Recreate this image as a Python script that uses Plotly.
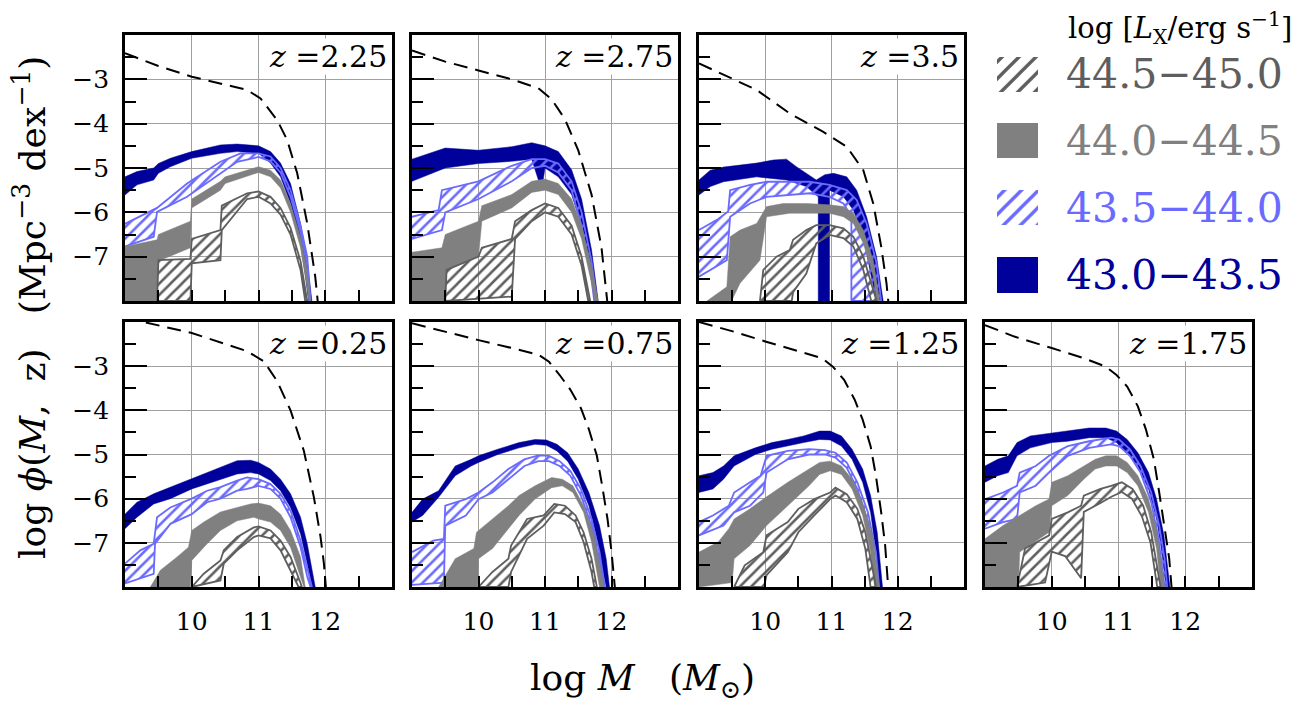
import plotly.graph_objects as go

FONT = "DejaVu Serif"
NAVY = "#00009a"
LBLUE = "#6a6aff"
GRAY = "#808080"
DGRAY = "#5e5e5e"

# ---------------- data (log M, log phi) ----------------
Z225_MF = [(9.0,-2.41),(9.5,-2.7),(10.0,-2.94),(10.43,-3.09),(10.83,-3.24),(11.03,-3.43),(11.28,-3.92),(11.43,-4.37),(11.58,-5.12),(11.73,-6.25),(11.85,-7.45),(11.9,-8.2)]
Z225_NAVY_UP = [(9.0,-5.2),(9.18,-5.08),(9.43,-5.0),(9.5,-4.9),(9.68,-4.78),(10.0,-4.63),(10.43,-4.48),(10.68,-4.46),(11.0,-4.5),(11.18,-4.63),(11.33,-4.89),(11.48,-5.35),(11.63,-6.25),(11.73,-7.08),(11.8,-8.0)]
Z225_NAVY_LO = [(9.0,-5.61),(9.18,-5.38),(9.43,-5.27),(9.5,-5.12),(9.68,-4.97),(10.0,-4.78),(10.43,-4.67),(10.68,-4.63),(11.0,-4.67),(11.18,-4.89),(11.33,-5.2),(11.48,-5.8),(11.63,-6.7),(11.7,-7.4),(11.75,-8.0)]
Z225_LB_UP = [(9.0,-6.26),(9.43,-5.95),(9.48,-5.9),(9.93,-5.35),(10.43,-4.86),(10.73,-4.67),(11.0,-4.67),(11.18,-4.74),(11.33,-5.0),(11.48,-5.5),(11.63,-6.3),(11.73,-7.0),(11.78,-8.0)]
Z225_LB_LO = [(9.0,-6.77),(9.43,-6.55),(9.48,-5.99),(9.93,-5.65),(10.43,-5.12),(10.68,-4.86),(10.93,-4.78),(11.0,-4.75),(11.18,-4.85),(11.33,-5.1),(11.48,-5.65),(11.63,-6.45),(11.73,-7.2),(11.76,-8.0)]
Z225_GR_UP = [(9.0,-6.77),(9.48,-6.62),(9.5,-6.5),(9.98,-6.2),(10.0,-5.7),(10.43,-5.3),(10.5,-5.2),(11.0,-4.97),(11.18,-5.05),(11.33,-5.27),(11.48,-5.8),(11.63,-6.55),(11.73,-7.3),(11.78,-8.0)]
Z225_GR_LO = [(9.0,-8.0),(9.48,-8.0),(9.5,-7.1),(9.98,-6.8),(10.0,-5.9),(10.43,-5.5),(10.5,-5.35),(11.0,-5.1),(11.18,-5.2),(11.33,-5.45),(11.48,-6.0),(11.63,-6.8),(11.72,-7.6),(11.76,-8.0)]
Z225_DG_UP = [(9.48,-8.0),(9.5,-7.08),(9.98,-7.05),(10.0,-6.6),(10.43,-6.4),(10.45,-5.85),(10.83,-5.57),(11.0,-5.53),(11.18,-5.65),(11.33,-5.9),(11.48,-6.35),(11.63,-7.1),(11.73,-8.0)]
Z225_DG_LO = [(9.48,-8.0),(9.98,-8.0),(10.0,-7.15),(10.43,-7.08),(10.45,-6.4),(10.83,-5.7),(11.0,-5.65),(11.18,-5.8),(11.33,-6.05),(11.48,-6.5),(11.63,-7.3),(11.7,-8.0)]

Z275_MF = [(9.0,-2.35),(9.5,-2.6),(10.0,-2.8),(10.5,-3.0),(10.9,-3.2),(11.1,-3.45),(11.3,-3.9),(11.5,-4.6),(11.7,-5.6),(11.85,-6.8),(11.95,-8.2)]
Z275_NAVY_UP = [(9.0,-4.8),(9.5,-4.55),(10.0,-4.6),(10.5,-4.52),(10.8,-4.43),(11.0,-4.5),(11.2,-4.63),(11.4,-5.04),(11.55,-5.7),(11.7,-6.85),(11.8,-8.0)]
Z275_NAVY_LO = [(9.0,-5.3),(9.5,-5.0),(10.0,-4.9),(10.5,-4.85),(10.8,-4.8),(10.95,-5.5),(11.0,-5.0),(11.2,-5.2),(11.4,-5.6),(11.55,-6.3),(11.7,-7.4),(11.75,-8.0)]
Z275_LB_UP = [(9.0,-6.1),(9.4,-5.95),(9.45,-5.5),(10.0,-5.3),(10.5,-4.95),(10.8,-4.8),(11.0,-4.8),(11.2,-4.9),(11.4,-5.3),(11.55,-6.0),(11.7,-7.1),(11.78,-8.0)]
Z275_LB_LO = [(9.0,-6.6),(9.45,-6.4),(9.5,-6.0),(10.0,-5.7),(10.5,-5.3),(10.8,-5.0),(11.0,-4.95),(11.2,-5.1),(11.4,-5.5),(11.55,-6.3),(11.7,-7.5),(11.74,-8.0)]
Z275_GR_UP = [(9.0,-6.9),(9.45,-6.8),(9.5,-6.5),(10.0,-6.2),(10.05,-5.85),(10.5,-5.6),(10.8,-5.3),(11.0,-5.25),(11.2,-5.35),(11.4,-5.7),(11.55,-6.3),(11.7,-7.2),(11.8,-8.0)]
Z275_GR_LO = [(9.0,-8.0),(9.5,-8.0),(9.52,-7.3),(10.0,-7.0),(10.05,-6.2),(10.5,-5.9),(10.8,-5.55),(11.0,-5.5),(11.2,-5.6),(11.4,-6.0),(11.55,-6.6),(11.7,-7.6),(11.75,-8.0)]
Z275_DG_UP = [(9.5,-8.0),(9.52,-7.3),(10.0,-7.0),(10.05,-6.8),(10.5,-6.6),(10.55,-6.2),(10.8,-5.95),(11.0,-5.8),(11.2,-5.9),(11.4,-6.3),(11.55,-7.0),(11.68,-8.0)]
Z275_DG_LO = [(9.5,-8.0),(10.5,-7.9),(10.55,-6.6),(10.8,-6.2),(11.0,-6.0),(11.2,-6.1),(11.4,-6.5),(11.55,-7.2),(11.65,-8.0)]

Z350_MF = [(9.0,-2.64),(9.37,-2.9),(9.87,-3.24),(10.37,-3.77),(10.87,-4.18),(11.23,-4.52),(11.48,-5.05),(11.63,-5.8),(11.75,-6.77),(11.83,-7.6),(11.87,-8.2)]
Z350_NAVY_UP = [(9.0,-5.27),(9.17,-5.05),(9.37,-4.98),(9.87,-4.89),(10.12,-4.82),(10.32,-4.8),(10.47,-4.97),(10.62,-5.12),(10.77,-5.27),(10.9,-5.15),(11.03,-5.12),(11.23,-5.2),(11.38,-5.5),(11.53,-6.1),(11.68,-7.0),(11.78,-8.0)]
Z350_NAVY_LO = [(9.0,-5.61),(9.17,-5.42),(9.37,-5.31),(9.87,-5.2),(10.32,-5.27),(10.62,-5.42),(10.8,-5.65),(10.8,-8.0),(10.97,-8.0),(10.97,-5.5),(11.18,-5.65),(11.33,-5.95),(11.48,-6.55),(11.6,-7.45),(11.68,-8.0)]
Z350_LB_UP = [(9.0,-6.4),(9.27,-6.17),(9.44,-5.98),(9.47,-5.5),(9.77,-5.38),(10.02,-5.31),(10.37,-5.31),(10.67,-5.31),(10.97,-5.38),(11.23,-5.5),(11.38,-5.72),(11.53,-6.25),(11.68,-7.15),(11.75,-8.0)]
Z350_LB_LO = [(9.0,-7.45),(9.17,-7.3),(9.42,-7.08),(9.47,-6.1),(9.77,-5.8),(10.02,-5.65),(10.37,-5.6),(10.67,-5.57),(10.97,-5.65),(11.18,-5.8),(11.3,-6.1),(11.3,-8.0)]
Z350_GR_UP = [(9.12,-8.0),(9.27,-7.83),(9.42,-7.68),(9.47,-6.55),(9.62,-6.4),(9.87,-6.25),(10.02,-5.87),(10.27,-5.8),(10.62,-5.8),(10.97,-5.83),(11.18,-5.87),(11.33,-6.02),(11.48,-6.4),(11.63,-7.08),(11.73,-8.0)]
Z350_GR_LO = [(9.12,-8.0),(9.49,-8.0),(9.62,-7.6),(9.92,-7.08),(10.02,-6.1),(10.37,-6.02),(10.97,-6.02),(11.18,-6.1),(11.33,-6.25),(11.48,-6.7),(11.63,-7.45),(11.68,-8.0)]
Z350_DG_UP = [(9.92,-8.0),(9.97,-7.3),(10.17,-7.0),(10.37,-6.85),(10.42,-6.62),(10.62,-6.4),(10.77,-6.29),(10.97,-6.29),(11.18,-6.36),(11.33,-6.55),(11.48,-7.0),(11.63,-7.75),(11.68,-8.0)]
Z350_DG_LO = [(9.92,-8.0),(10.4,-8.0),(10.42,-7.8),(10.62,-7.38),(10.77,-6.7),(10.97,-6.51),(11.18,-6.58),(11.33,-6.77),(11.48,-7.3),(11.6,-8.0)]

Z025_MF = [(9.0,-1.85),(9.28,-2.0),(10.0,-2.25),(10.43,-2.47),(10.83,-2.66),(11.08,-2.89),(11.28,-3.34),(11.48,-4.0),(11.68,-4.92),(11.83,-5.97),(11.93,-6.87),(11.98,-7.47),(12.02,-8.2)]
Z025_NAVY_UP = [(9.0,-6.35),(9.18,-6.08),(9.43,-5.89),(9.68,-5.74),(10.0,-5.56),(10.23,-5.41),(10.43,-5.29),(10.68,-5.14),(10.88,-5.13),(11.0,-5.18),(11.18,-5.33),(11.33,-5.56),(11.48,-5.89),(11.63,-6.42),(11.73,-7.02),(11.8,-7.62),(11.85,-8.0)]
Z025_NAVY_LO = [(9.0,-6.68),(9.18,-6.42),(9.43,-6.12),(9.68,-6.0),(10.0,-5.78),(10.23,-5.67),(10.43,-5.56),(10.68,-5.44),(10.88,-5.41),(11.0,-5.44),(11.18,-5.59),(11.33,-5.82),(11.48,-6.2),(11.63,-6.8),(11.73,-7.47),(11.8,-8.0)]
Z025_LB_UP = [(9.0,-7.47),(9.23,-7.17),(9.43,-7.02),(9.48,-6.42),(9.68,-6.2),(10.0,-6.0),(10.23,-5.82),(10.43,-5.74),(10.68,-5.59),(10.83,-5.52),(11.0,-5.56),(11.18,-5.67),(11.33,-5.89),(11.48,-6.27),(11.63,-6.95),(11.73,-7.55),(11.8,-8.0)]
Z025_LB_LO = [(9.0,-7.92),(9.43,-7.7),(9.45,-7.02),(9.68,-6.57),(10.0,-6.35),(10.23,-6.08),(10.43,-6.0),(10.68,-5.82),(10.83,-5.78),(11.0,-5.71),(11.18,-5.78),(11.33,-6.0),(11.48,-6.42),(11.63,-7.1),(11.73,-7.77),(11.78,-8.0)]
Z025_GR_UP = [(9.38,-8.0),(9.53,-7.62),(9.78,-7.32),(9.95,-7.1),(10.0,-6.72),(10.18,-6.53),(10.43,-6.3),(10.68,-6.2),(10.88,-6.12),(11.0,-6.1),(11.18,-6.16),(11.33,-6.35),(11.48,-6.72),(11.63,-7.32),(11.7,-8.0)]
Z025_GR_LO = [(9.38,-8.0),(9.98,-8.0),(10.0,-7.4),(10.23,-7.02),(10.43,-6.72),(10.68,-6.5),(10.93,-6.42),(11.0,-6.46),(11.18,-6.53),(11.33,-6.72),(11.48,-7.1),(11.63,-7.77),(11.68,-8.0)]
Z025_DG_UP = [(10.0,-8.0),(10.18,-7.7),(10.43,-7.4),(10.48,-7.17),(10.68,-6.87),(10.93,-6.65),(11.0,-6.63),(11.18,-6.72),(11.33,-6.95),(11.48,-7.32),(11.63,-7.91),(11.65,-8.0)]
Z025_DG_LO = [(10.0,-8.0),(10.43,-7.85),(10.48,-7.47),(10.68,-7.17),(10.93,-6.87),(11.0,-6.83),(11.18,-6.9),(11.33,-7.17),(11.48,-7.62),(11.6,-8.0)]

Z075_MF = [(9.0,-2.03),(9.48,-2.22),(10.0,-2.41),(10.53,-2.6),(10.9,-2.74),(11.06,-2.9),(11.22,-3.2),(11.38,-3.53),(11.54,-3.95),(11.66,-4.43),(11.78,-5.03),(11.86,-5.71),(11.94,-6.46),(12.0,-7.2),(12.05,-8.0)]
Z075_NAVY_UP = [(9.0,-6.31),(9.16,-6.01),(9.4,-5.82),(9.65,-5.26),(9.89,-5.11),(10.0,-5.03),(10.29,-4.88),(10.61,-4.73),(10.85,-4.66),(11.02,-4.67),(11.18,-4.77),(11.34,-4.96),(11.5,-5.33),(11.66,-5.86),(11.82,-6.61),(11.92,-7.36),(11.97,-8.0)]
Z075_NAVY_LO = [(9.0,-6.53),(9.16,-6.38),(9.4,-5.97),(9.65,-5.48),(9.89,-5.26),(10.0,-5.18),(10.29,-5.0),(10.61,-4.85),(10.85,-4.77),(11.02,-4.79),(11.18,-4.92),(11.34,-5.15),(11.5,-5.56),(11.66,-6.16),(11.78,-6.91),(11.86,-7.58),(11.92,-8.0)]
Z075_LB_UP = [(9.0,-7.21),(9.32,-6.95),(9.48,-6.91),(9.5,-6.16),(9.81,-6.01),(10.0,-5.86),(10.21,-5.63),(10.45,-5.33),(10.69,-5.11),(10.9,-5.02),(11.06,-5.03),(11.22,-5.15),(11.38,-5.37),(11.54,-5.78),(11.7,-6.46),(11.82,-7.21),(11.9,-8.0)]
Z075_LB_LO = [(9.0,-7.95),(9.48,-7.9),(9.5,-6.61),(9.81,-6.38),(10.0,-6.01),(10.21,-5.86),(10.45,-5.56),(10.69,-5.26),(10.9,-5.15),(11.06,-5.15),(11.22,-5.26),(11.38,-5.48),(11.54,-5.93),(11.7,-6.61),(11.82,-7.43),(11.88,-8.0)]
Z075_GR_UP = [(9.4,-8.0),(9.65,-7.36),(9.93,-7.13),(9.97,-6.76),(10.21,-6.46),(10.45,-6.16),(10.61,-5.93),(10.85,-5.71),(11.1,-5.52),(11.26,-5.56),(11.42,-5.71),(11.58,-6.16),(11.74,-6.83),(11.84,-7.58),(11.89,-8.0)]
Z075_GR_LO = [(9.4,-8.0),(9.99,-8.0),(10.0,-7.36),(10.21,-7.13),(10.45,-6.68),(10.61,-6.38),(10.85,-6.01),(11.1,-5.75),(11.26,-5.71),(11.42,-5.86),(11.58,-6.31),(11.7,-6.98),(11.78,-7.66),(11.82,-8.0)]
Z075_DG_UP = [(10.0,-8.0),(10.21,-7.66),(10.45,-7.36),(10.49,-7.06),(10.73,-6.46),(10.98,-6.38),(11.14,-6.12),(11.3,-6.16),(11.46,-6.38),(11.58,-6.76),(11.7,-7.36),(11.78,-8.0)]
Z075_DG_LO = [(10.0,-8.0),(10.45,-8.0),(10.49,-7.66),(10.73,-6.91),(10.98,-6.61),(11.14,-6.31),(11.3,-6.35),(11.46,-6.53),(11.58,-6.98),(11.7,-7.66),(11.74,-8.0)]

Z125_MF = [(9.0,-2.0),(9.53,-2.22),(10.0,-2.44),(10.5,-2.67),(10.86,-2.82),(11.02,-3.01),(11.19,-3.31),(11.35,-3.76),(11.47,-4.21),(11.59,-4.81),(11.67,-5.48),(11.75,-6.31),(11.81,-7.06),(11.86,-8.1)]
Z125_NAVY_UP = [(9.0,-5.48),(9.21,-5.41),(9.37,-5.26),(9.53,-5.03),(9.85,-4.85),(10.1,-4.73),(10.34,-4.66),(10.58,-4.58),(10.82,-4.47),(10.98,-4.47),(11.15,-4.58),(11.31,-4.88),(11.47,-5.33),(11.59,-5.93),(11.69,-6.76),(11.77,-8.0)]
Z125_NAVY_LO = [(9.0,-5.86),(9.21,-5.78),(9.37,-5.56),(9.53,-5.26),(9.85,-5.0),(10.1,-4.88),(10.34,-4.81),(10.58,-4.73),(10.82,-4.66),(10.98,-4.67),(11.15,-4.81),(11.31,-5.11),(11.47,-5.63),(11.59,-6.31),(11.67,-7.21),(11.72,-8.0)]
Z125_LB_UP = [(9.0,-6.53),(9.21,-6.38),(9.45,-6.16),(9.53,-5.86),(9.77,-5.63),(9.93,-5.48),(10.02,-5.03),(10.34,-4.92),(10.66,-4.88),(10.9,-4.9),(11.06,-4.96),(11.23,-5.18),(11.39,-5.63),(11.55,-6.31),(11.67,-7.21),(11.72,-8.0)]
Z125_LB_LO = [(9.0,-6.83),(9.37,-6.61),(9.53,-6.31),(9.77,-6.16),(9.97,-5.86),(10.02,-5.41),(10.34,-5.11),(10.66,-5.0),(10.9,-5.0),(11.06,-5.07),(11.23,-5.3),(11.39,-5.78),(11.55,-6.53),(11.65,-7.43),(11.69,-8.0)]
Z125_GR_UP = [(9.0,-7.21),(9.29,-6.98),(9.45,-6.68),(9.53,-6.46),(9.77,-6.23),(9.97,-6.01),(10.34,-5.63),(10.66,-5.33),(10.82,-5.18),(10.98,-5.15),(11.15,-5.26),(11.31,-5.56),(11.47,-6.08),(11.63,-6.91),(11.72,-8.0)]
Z125_GR_LO = [(9.0,-8.0),(9.5,-7.9),(9.53,-7.36),(9.77,-7.06),(10.02,-6.61),(10.34,-6.16),(10.66,-5.71),(10.82,-5.45),(10.98,-5.37),(11.15,-5.45),(11.31,-5.78),(11.47,-6.38),(11.59,-7.21),(11.65,-8.0)]
Z125_DG_UP = [(9.53,-8.0),(9.69,-7.51),(9.97,-7.21),(10.02,-6.83),(10.34,-6.53),(10.5,-6.23),(10.74,-6.01),(10.98,-5.86),(11.06,-5.75),(11.23,-5.9),(11.39,-6.23),(11.51,-6.76),(11.63,-7.66),(11.67,-8.0)]
Z125_DG_LO = [(9.53,-8.0),(9.98,-8.0),(10.02,-7.73),(10.34,-7.21),(10.5,-6.76),(10.74,-6.38),(10.98,-6.01),(11.06,-5.93),(11.23,-6.08),(11.39,-6.46),(11.51,-7.13),(11.59,-8.0)]

Z175_MF = [(9.0,-2.07),(9.44,-2.33),(10.0,-2.59),(10.48,-2.82),(10.81,-3.01),(10.97,-3.2),(11.13,-3.46),(11.29,-3.91),(11.41,-4.43),(11.53,-5.11),(11.61,-5.86),(11.69,-6.61),(11.76,-7.36),(11.8,-8.1)]
Z175_NAVY_UP = [(9.0,-5.26),(9.19,-5.11),(9.35,-5.03),(9.48,-4.73),(9.68,-4.58),(10.0,-4.51),(10.24,-4.47),(10.56,-4.4),(10.81,-4.4),(10.97,-4.47),(11.13,-4.66),(11.29,-4.96),(11.45,-5.41),(11.57,-6.01),(11.68,-6.83),(11.77,-8.0)]
Z175_NAVY_LO = [(9.0,-5.63),(9.19,-5.48),(9.35,-5.41),(9.48,-5.03),(9.68,-4.85),(10.0,-4.73),(10.24,-4.7),(10.56,-4.62),(10.81,-4.62),(10.97,-4.73),(11.13,-4.96),(11.29,-5.26),(11.45,-5.78),(11.57,-6.46),(11.65,-7.21),(11.71,-8.0)]
Z175_LB_UP = [(9.0,-6.01),(9.27,-5.86),(9.48,-5.71),(9.52,-5.41),(9.76,-5.26),(9.96,-5.03),(10.24,-4.81),(10.56,-4.7),(10.89,-4.62),(11.01,-4.66),(11.17,-4.88),(11.33,-5.26),(11.49,-5.86),(11.61,-6.61),(11.69,-7.36),(11.73,-8.0)]
Z175_LB_LO = [(9.0,-6.68),(9.27,-6.53),(9.48,-6.46),(9.52,-5.86),(9.76,-5.71),(9.96,-5.41),(10.24,-5.03),(10.56,-4.85),(10.89,-4.77),(11.01,-4.81),(11.17,-5.03),(11.33,-5.41),(11.49,-6.08),(11.6,-6.91),(11.66,-7.66),(11.69,-8.0)]
Z175_GR_UP = [(9.0,-6.91),(9.27,-6.61),(9.52,-6.38),(9.76,-6.16),(9.96,-6.01),(10.0,-5.63),(10.24,-5.48),(10.48,-5.26),(10.65,-5.11),(10.81,-5.03),(10.97,-5.03),(11.13,-5.18),(11.29,-5.48),(11.45,-6.01),(11.57,-6.68),(11.69,-8.0)]
Z175_GR_LO = [(9.0,-8.0),(9.5,-8.0),(9.52,-7.21),(9.96,-6.76),(10.0,-6.16),(10.24,-5.93),(10.48,-5.56),(10.65,-5.33),(10.81,-5.26),(10.97,-5.26),(11.13,-5.41),(11.29,-5.71),(11.45,-6.31),(11.57,-7.13),(11.63,-8.0)]
Z175_DG_UP = [(9.48,-8.0),(9.6,-7.13),(9.96,-6.83),(10.0,-6.46),(10.24,-6.31),(10.44,-6.16),(10.48,-5.93),(10.73,-5.78),(10.89,-5.71),(11.05,-5.63),(11.21,-5.78),(11.37,-6.16),(11.49,-6.76),(11.59,-7.66),(11.63,-8.0)]
Z175_DG_LO = [(9.48,-8.0),(9.9,-7.9),(10.0,-7.2),(10.2,-7.3),(10.44,-7.8),(10.48,-6.3),(10.73,-6.1),(10.9,-5.95),(11.05,-5.85),(11.2,-6.0),(11.35,-6.4),(11.48,-7.0),(11.58,-8.0)]

REDSHIFTS = ["2.25", "2.75", "3.5", "0.25", "0.75", "1.25", "1.75"]
PANEL_CELLS = [(0, 0), (1, 0), (2, 0), (0, 1), (1, 1), (2, 1), (3, 1)]
MASS_FUNCS = [Z225_MF, Z275_MF, Z350_MF, Z025_MF, Z075_MF, Z125_MF, Z175_MF]
NAVY_BANDS = [(Z225_NAVY_UP, Z225_NAVY_LO), (Z275_NAVY_UP, Z275_NAVY_LO), (Z350_NAVY_UP, Z350_NAVY_LO),
              (Z025_NAVY_UP, Z025_NAVY_LO), (Z075_NAVY_UP, Z075_NAVY_LO), (Z125_NAVY_UP, Z125_NAVY_LO), (Z175_NAVY_UP, Z175_NAVY_LO)]
LB_BANDS = [(Z225_LB_UP, Z225_LB_LO), (Z275_LB_UP, Z275_LB_LO), (Z350_LB_UP, Z350_LB_LO),
            (Z025_LB_UP, Z025_LB_LO), (Z075_LB_UP, Z075_LB_LO), (Z125_LB_UP, Z125_LB_LO), (Z175_LB_UP, Z175_LB_LO)]
GR_BANDS = [(Z225_GR_UP, Z225_GR_LO), (Z275_GR_UP, Z275_GR_LO), (Z350_GR_UP, Z350_GR_LO),
            (Z025_GR_UP, Z025_GR_LO), (Z075_GR_UP, Z075_GR_LO), (Z125_GR_UP, Z125_GR_LO), (Z175_GR_UP, Z175_GR_LO)]
DG_BANDS = [(Z225_DG_UP, Z225_DG_LO), (Z275_DG_UP, Z275_DG_LO), (Z350_DG_UP, Z350_DG_LO),
            (Z025_DG_UP, Z025_DG_LO), (Z075_DG_UP, Z075_DG_LO), (Z125_DG_UP, Z125_DG_LO), (Z175_DG_UP, Z175_DG_LO)]

LEGEND_LABELS = ["44.5−45.0", "44.0−44.5", "43.5−44.0", "43.0−43.5"]
LEGEND_COLORS = [DGRAY, GRAY, LBLUE, NAVY]
LEGEND_HATCHED = [True, False, True, False]
X_TICKS = [10, 11, 12]
X_MINOR = [9.5, 10.5, 11.5, 12.5]
Y_TICKS = [-3, -4, -5, -6, -7]
Y_MINOR = [-2.5, -3.5, -4.5, -5.5, -6.5, -7.5]

# ---------------- layout geometry (reference pixels; page body has an 8px margin) ----------------
OFF = 8
W, H = 1302 - OFF, 706 - OFF
COL_PX = [(125, 392), (412, 678), (699, 964), (985, 1252)]
ROW_PX = [(35, 301), (322, 587)]
CLEAR = "rgba(0,0,0,0)"


def fx(px):
    return (px - OFF) / W


def fy(py):
    return 1 - (py - OFF) / H


def band_polygon(upper, lower):
    xs = [p[0] for p in upper] + [p[0] for p in reversed(lower)]
    ys = [p[1] for p in upper] + [p[1] for p in reversed(lower)]
    return xs, ys


def ax_id(i):
    return "" if i == 1 else str(i)


fig = go.Figure()

for i, z in enumerate(REDSHIFTS, start=1):
    xa, ya = "x" + ax_id(i), "y" + ax_id(i)
    specs = [(NAVY_BANDS[i - 1], NAVY, False), (LB_BANDS[i - 1], LBLUE, True),
             (GR_BANDS[i - 1], GRAY, False), (DG_BANDS[i - 1], DGRAY, True)]
    for (up, lo), color, hatched in specs:
        xs, ys = band_polygon(up, lo)
        if hatched:
            fig.add_trace(go.Scatter(x=xs, y=ys, xaxis=xa, yaxis=ya, mode="lines", fill="toself",
                                     line=dict(color=color, width=1.8),
                                     fillcolor=CLEAR,
                                     fillpattern=dict(shape="/", fgcolor=color, fgopacity=1,
                                                      bgcolor=CLEAR, size=8, solidity=0.32),
                                     showlegend=False, hoverinfo="skip"))
        else:
            fig.add_trace(go.Scatter(x=xs, y=ys, xaxis=xa, yaxis=ya, mode="lines", fill="toself",
                                     line=dict(color=color, width=0.5), fillcolor=color,
                                     showlegend=False, hoverinfo="skip"))
    mf = MASS_FUNCS[i - 1]
    fig.add_trace(go.Scatter(x=[p[0] for p in mf], y=[p[1] for p in mf], xaxis=xa, yaxis=ya,
                             mode="lines", line=dict(color="black", width=2, dash="14px,8px"),
                             showlegend=False, hoverinfo="skip"))

layout = dict(width=W, height=H, margin=dict(l=0, r=0, t=0, b=0),
              paper_bgcolor="white", plot_bgcolor="white", showlegend=False)

annotations = []
for i, z in enumerate(REDSHIFTS, start=1):
    col, row = PANEL_CELLS[i - 1]
    x0, x1 = COL_PX[col]
    y0, y1 = ROW_PX[row]
    layout["xaxis" + ax_id(i)] = dict(
        domain=[fx(x0), fx(x1)], range=[9, 13], anchor="y" + ax_id(i),
        showline=True, mirror=True, linecolor="black", linewidth=2.7,
        tickmode="array", tickvals=X_TICKS, ticktext=[str(v) for v in X_TICKS],
        ticks="inside", ticklen=11, tickwidth=2, tickcolor="black",
        showgrid=True, gridcolor="#a0a0a0", gridwidth=1.2, zeroline=False,
        showticklabels=(row == 1), ticklabelstandoff=10,
        tickfont=dict(family=FONT, size=25, color="black"),
        minor=dict(tickvals=X_MINOR, ticks="inside", ticklen=11, tickwidth=2,
                   tickcolor="black", showgrid=False),
    )
    layout["yaxis" + ax_id(i)] = dict(
        domain=[fy(y1), fy(y0)], range=[-8, -2], anchor="x" + ax_id(i),
        showline=True, mirror=True, linecolor="black", linewidth=2.7,
        tickmode="array", tickvals=Y_TICKS, ticktext=["−" + str(abs(v)) for v in Y_TICKS],
        ticks="inside", ticklen=22, tickwidth=2, tickcolor="black",
        showgrid=True, gridcolor="#a0a0a0", gridwidth=1.2, zeroline=False,
        showticklabels=(col == 0), ticklabelstandoff=8,
        tickfont=dict(family=FONT, size=25, color="black"),
        minor=dict(tickvals=Y_MINOR, ticks="inside", ticklen=11, tickwidth=2,
                   tickcolor="black", showgrid=False),
    )
    annotations.append(dict(xref="x" + ax_id(i) + " domain", yref="y" + ax_id(i) + " domain",
                            x=0.985, y=0.99,
                            xanchor="right", yanchor="top", showarrow=False,
                            text="<i>z</i> =" + z,
                            font=dict(family=FONT, size=30, color="black"),
                            bgcolor="white", borderpad=0))

# legend panel (own invisible axes, pixel-like units)
LX0, LX1, LY0, LY1 = 985, 1300, 40, 300
layout["xaxis8"] = dict(domain=[fx(LX0), fx(LX1)], range=[LX0, LX1], anchor="y8", visible=False, fixedrange=True)
layout["yaxis8"] = dict(domain=[fy(LY1), fy(LY0)], range=[LY1, LY0], anchor="x8", visible=False, fixedrange=True)
SW_X = (997, 1038)
SW_Y = [(57, 92), (123, 158), (190, 225), (257, 293)]
for k, label in enumerate(LEGEND_LABELS):
    c = LEGEND_COLORS[k]
    ya0, ya1 = SW_Y[k]
    sx = [SW_X[0], SW_X[1], SW_X[1], SW_X[0], SW_X[0]]
    sy = [ya0, ya0, ya1, ya1, ya0]
    if LEGEND_HATCHED[k]:
        fig.add_trace(go.Scatter(x=sx, y=sy, xaxis="x8", yaxis="y8", mode="lines", fill="toself",
                                 line=dict(width=0, color=c), fillcolor=CLEAR,
                                 fillpattern=dict(shape="/", fgcolor=c, fgopacity=1, bgcolor=CLEAR,
                                                  size=12, solidity=0.28),
                                 showlegend=False, hoverinfo="skip"))
    else:
        fig.add_trace(go.Scatter(x=sx, y=sy, xaxis="x8", yaxis="y8", mode="lines", fill="toself",
                                 line=dict(width=0, color=c), fillcolor=c,
                                 showlegend=False, hoverinfo="skip"))
    annotations.append(dict(xref="paper", yref="paper", x=fx(1064), y=fy((ya0 + ya1) / 2),
                            xanchor="left", yanchor="middle", showarrow=False, text=label,
                            font=dict(family=FONT, size=41, color=c)))

annotations.append(dict(xref="paper", yref="paper", x=fx(1294), y=fy(28),
                        xanchor="right", yanchor="middle", showarrow=False,
                        text="log [<i>L</i><sub>X</sub>/erg s<sup>−1</sup>]",
                        font=dict(family=FONT, size=29, color="black")))

# axis titles
annotations.append(dict(xref="paper", yref="paper", x=fx(642), y=fy(680),
                        xanchor="center", yanchor="middle", showarrow=False,
                        text="log <i>M</i>&nbsp;&nbsp;&nbsp;(<i>M</i><sub>⊙</sub>)",
                        font=dict(family=FONT, size=36, color="black")))
annotations.append(dict(xref="paper", yref="paper", x=fx(30), y=fy(308),
                        xanchor="center", yanchor="middle", textangle=-90, showarrow=False,
                        text="log <i>ϕ</i>(<i>M</i>,&nbsp;&nbsp;z)&nbsp;&nbsp;&nbsp;(Mpc<sup>−3</sup> dex<sup>−1</sup>)",
                        font=dict(family=FONT, size=36, color="black")))

layout["annotations"] = annotations
fig.update_layout(**layout)
fig.write_html("out.html")
